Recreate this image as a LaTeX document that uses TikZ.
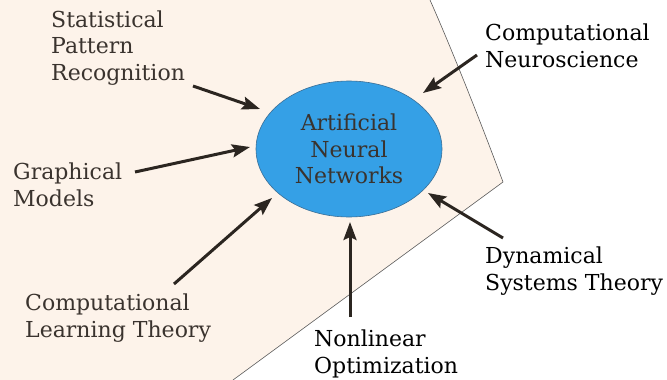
\documentclass[tikz,border=0pt]{standalone}
\usepackage{fontspec}
\setmainfont{DejaVu Serif}
\usetikzlibrary{shapes.geometric,arrows.meta}
\definecolor{beige}{HTML}{FDF3EA}
\definecolor{annblue}{HTML}{35A0E6}
\definecolor{annedge}{HTML}{3A6E96}
\definecolor{txtbrown}{HTML}{3A332E}
\definecolor{arrowc}{HTML}{2B2520}
\tikzset{
  lbl/.style={anchor=base west, inner sep=0pt, align=left, font=\fontsize{22pt}{26.5pt}\selectfont},
  feed/.style={draw=arrowc, line width=3pt, -{Stealth[length=18pt,width=13pt,inset=3pt]}}
}
\begin{document}
\begin{tikzpicture}[x=1pt,y=-1pt]
\useasboundingbox (0,0) rectangle (667,380);
\fill[beige] (0,0) -- (430,0) .. controls (450,45) and (480,120) .. (503,182) -- (233,380) -- (0,380) -- cycle;
\draw[gray!70!black, line width=0.6pt] (430,0) .. controls (450,45) and (480,120) .. (503,182) -- (233,380);
\node[ellipse, fill=annblue, draw=annedge, line width=0.6pt, minimum width=186pt, minimum height=136pt, inner sep=0pt, align=center, text=txtbrown, font=\fontsize{22pt}{26.5pt}\selectfont] (ann) at (349,149) {Artificial\\Neural\\Networks};
\node[lbl, text=txtbrown] (spr) at (51,80) {Statistical\\Pattern\\Recognition};
\node[lbl, text=txtbrown] (gm) at (13,206) {Graphical\\Models};
\node[lbl, text=txtbrown] (clt) at (25,337) {Computational\\Learning Theory};
\node[lbl, text=black] (cn) at (485,67) {Computational\\Neuroscience};
\node[lbl, text=black] (dst) at (485,290) {Dynamical\\Systems Theory};
\node[lbl, text=black] (no) at (314,373) {Nonlinear\\Optimization};
\coordinate (s1) at (193,86);  \coordinate (e1) at (260,109);
\coordinate (s2) at (477,55);  \coordinate (e2) at (423,93);
\coordinate (s3) at (135,172); \coordinate (e3) at (250,147);
\coordinate (s4) at (174,284); \coordinate (e4) at (272,198);
\coordinate (s5) at (350,317); \coordinate (e5) at (350,222);
\coordinate (s6) at (503,238); \coordinate (e6) at (428,193);
\draw[feed] (s1) -- (e1);
\draw[feed] (s2) -- (e2);
\draw[feed] (s3) -- (e3);
\draw[feed] (s4) -- (e4);
\draw[feed] (s5) -- (e5);
\draw[feed] (s6) -- (e6);
\end{tikzpicture}
\end{document}
